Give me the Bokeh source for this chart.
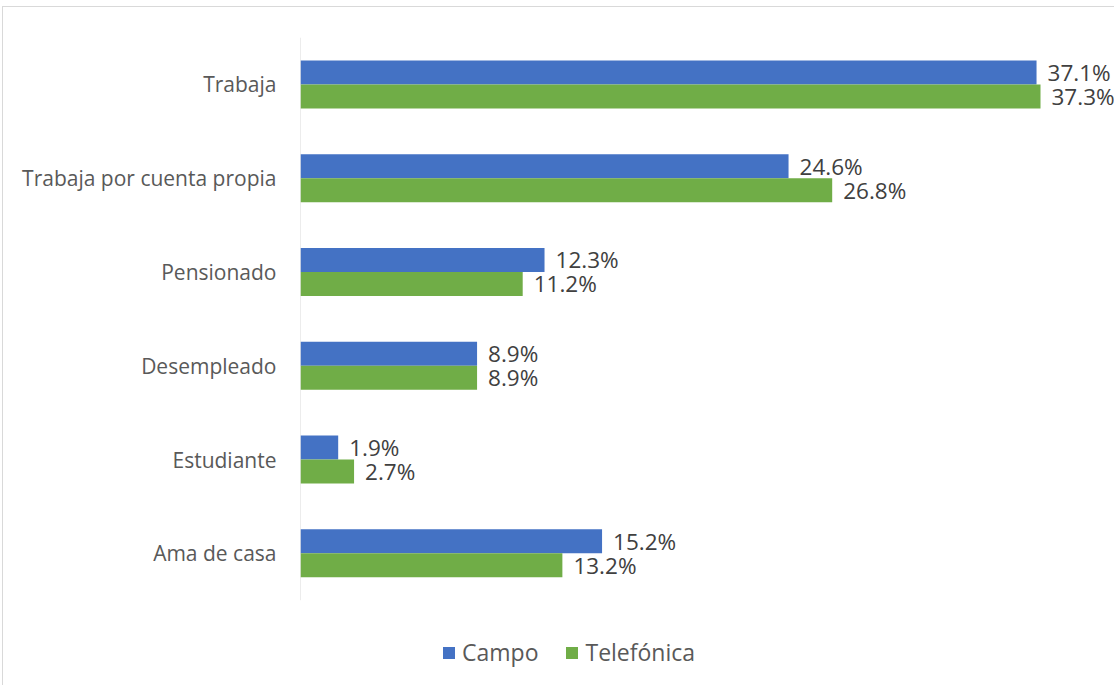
from bokeh.plotting import figure
from bokeh.models import ColumnDataSource, Range1d, Legend, LegendItem, FixedTicker
from bokeh.core.properties import value
from bokeh.embed import file_html
from bokeh.resources import INLINE

categories = ["Trabaja", "Trabaja por cuenta propia", "Pensionado", "Desempleado", "Estudiante", "Ama de casa"]
campo = [37.1, 24.6, 12.3, 8.9, 1.9, 15.2]
telefonica = [37.3, 26.8, 11.2, 8.9, 2.7, 13.2]
series_names = ["Campo", "Telefónica"]
colors = ["#4472C4", "#70AD47"]

FONT = "Open Sans"
n = len(categories)
pos = [n - 1 - i for i in range(n)]   # Trabaja at top
off = 0.128
h = 0.256

src = ColumnDataSource(dict(
    pos=pos,
    y_campo=[v + off for v in pos],
    y_tel=[v - off for v in pos],
    campo=campo,
    tel=telefonica,
    campo_lbl=[f"{v:.1f}%" for v in campo],
    tel_lbl=[f"{v:.1f}%" for v in telefonica],
))

p = figure(width=1112, height=679, output_backend="svg", toolbar_location=None,
           x_range=Range1d(0, 41.08), y_range=Range1d(-1.42, n - 0.5),
           x_axis_location=None,
           min_border_left=297, min_border_right=0, min_border_top=30, min_border_bottom=0)
p.margin = (6, 0, 0, 2)
p.outline_line_color = None
p.xgrid.visible = False
p.ygrid.visible = False
p.styles = {"border-left": "1px solid #d9d9d9", "border-top": "1px solid #d9d9d9"}

# category axis line
p.segment(x0=[0], x1=[0], y0=[-0.5], y1=[n - 0.5], line_color="#d9d9d9", line_width=1)

r1 = p.hbar(y="y_campo", left=0, right="campo", height=h,
            source=src, fill_color=colors[0], line_color=None)
r2 = p.hbar(y="y_tel", left=0, right="tel", height=h,
            source=src, fill_color=colors[1], line_color=None)

for col, ycol, lbl in (("campo", "y_campo", "campo_lbl"), ("tel", "y_tel", "tel_lbl")):
    p.text(x=col, y=ycol, text=lbl, source=src,
           x_offset=11, text_baseline="middle", text_align="left",
           text_font=value(FONT), text_font_size="22.5px", text_color="#404040")

ax = p.yaxis[0]
ax.ticker = FixedTicker(ticks=pos)
ax.major_label_overrides = {pp: c for pp, c in zip(pos, categories)}
ax.axis_line_color = None
ax.major_tick_line_color = None
ax.minor_tick_line_color = None
ax.major_label_standoff = 18
ax.major_label_text_font = FONT
ax.major_label_text_font_size = "21px"
ax.major_label_text_color = "#595959"

legend = Legend(items=[LegendItem(label=series_names[0], renderers=[r1]),
                       LegendItem(label=series_names[1], renderers=[r2])],
                orientation="horizontal", location=(141, 18),
                label_text_font=FONT, label_text_font_size="23px", label_text_color="#595959",
                glyph_width=15, glyph_height=15, spacing=26, label_standoff=6,
                border_line_color=None, background_fill_alpha=0, margin=0, padding=0)
p.add_layout(legend)

open("out.html", "w").write(file_html(p, INLINE))
